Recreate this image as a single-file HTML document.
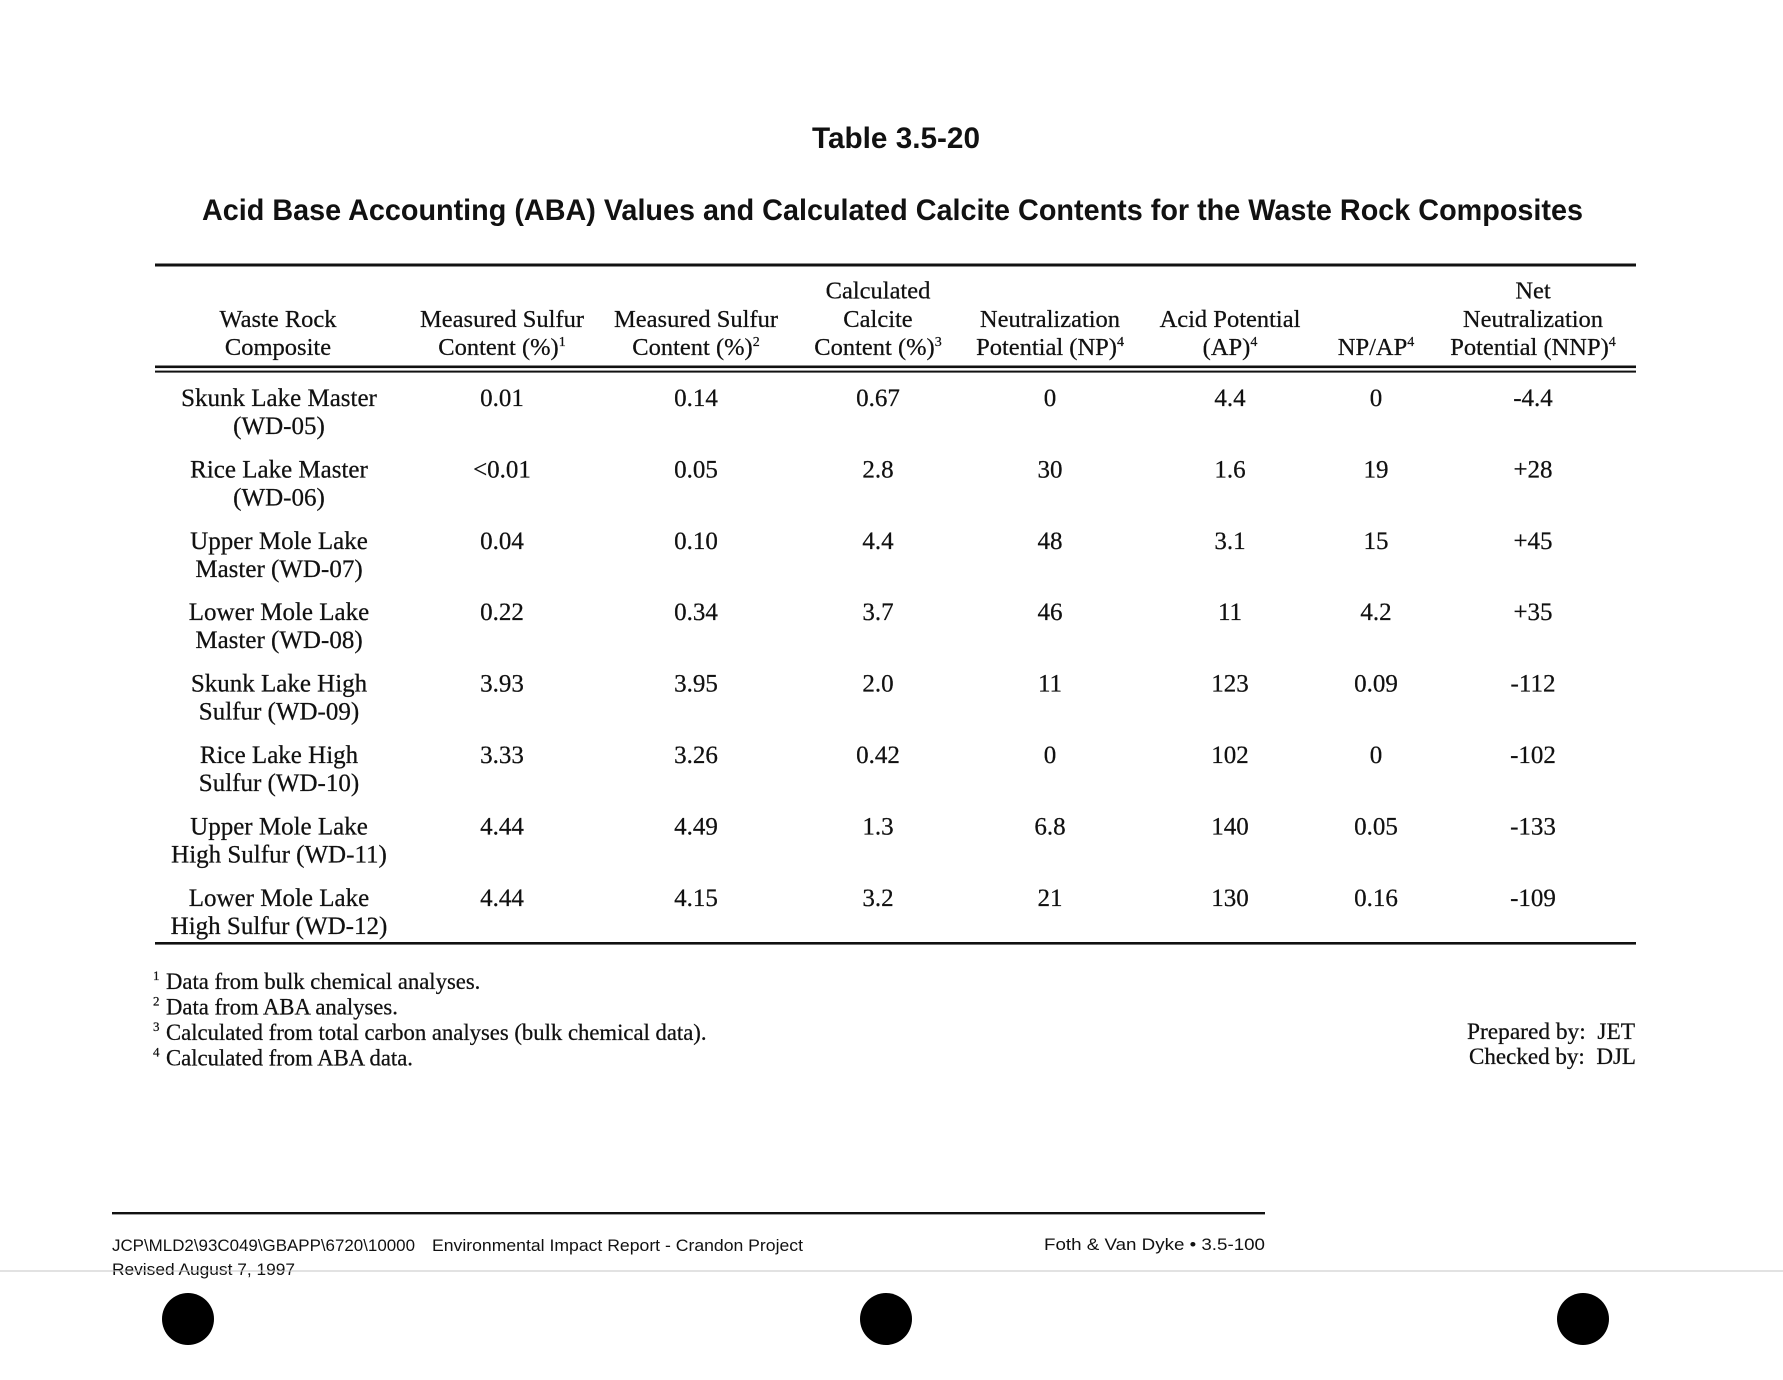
<!DOCTYPE html>
<html>
<head>
<meta charset="utf-8">
<style>
  html,body{margin:0;padding:0;background:#fff;}
  svg{display:block;}
  .t{font-family:"Liberation Serif",serif;fill:#111;stroke:#111;stroke-width:0.25px;}
  .h{font-size:24.5px;}
  .d{font-size:25px;}
  .f{font-size:22.7px;}
  .b{font-family:"Liberation Sans",sans-serif;font-weight:bold;fill:#111;font-size:30px;}
  .s{font-family:"Liberation Sans",sans-serif;fill:#111;font-size:17px;}
</style>
</head>
<body>
<svg width="1783" height="1380" viewBox="0 0 1783 1380" xmlns="http://www.w3.org/2000/svg">
  <rect width="1783" height="1380" fill="#fff"/>

  <!-- Titles -->
  <text class="b" x="812" y="148" textLength="168" lengthAdjust="spacingAndGlyphs">Table 3.5-20</text>
  <text class="b" x="202" y="220" textLength="1381" lengthAdjust="spacingAndGlyphs">Acid Base Accounting (ABA) Values and Calculated Calcite Contents for the Waste Rock Composites</text>

  <!-- Rules -->
  <rect x="155" y="263.5" width="1481" height="3" fill="#111"/>
  <rect x="155" y="365.5" width="1481" height="2.6" fill="#111"/>
  <rect x="155" y="370.6" width="1481" height="2" fill="#111"/>
  <rect x="155" y="942" width="1481" height="2.6" fill="#111"/>

  <!-- Header -->
  <g class="t h" text-anchor="middle">
    <text x="278" y="327">Waste Rock</text>
    <text x="278" y="355">Composite</text>

    <text x="502" y="327">Measured Sulfur</text>
    <text x="502" y="355">Content (%)<tspan dy="-9" font-size="14">1</tspan></text>

    <text x="696" y="327">Measured Sulfur</text>
    <text x="696" y="355">Content (%)<tspan dy="-9" font-size="14">2</tspan></text>

    <text x="878" y="298.5">Calculated</text>
    <text x="878" y="327">Calcite</text>
    <text x="878" y="355">Content (%)<tspan dy="-9" font-size="14">3</tspan></text>

    <text x="1050" y="327">Neutralization</text>
    <text x="1050" y="355">Potential (NP)<tspan dy="-9" font-size="14">4</tspan></text>

    <text x="1230" y="327">Acid Potential</text>
    <text x="1230" y="355">(AP)<tspan dy="-9" font-size="14">4</tspan></text>

    <text x="1376" y="355">NP/AP<tspan dy="-9" font-size="14">4</tspan></text>

    <text x="1533" y="298.5">Net</text>
    <text x="1533" y="327">Neutralization</text>
    <text x="1533" y="355">Potential (NNP)<tspan dy="-9" font-size="14">4</tspan></text>
  </g>

  <!-- Data rows -->
  <g class="t d" text-anchor="middle">
    <text x="279" y="406">Skunk Lake Master</text>
    <text x="279" y="434">(WD-05)</text>
    <text x="502" y="406">0.01</text>
    <text x="696" y="406">0.14</text>
    <text x="878" y="406">0.67</text>
    <text x="1050" y="406">0</text>
    <text x="1230" y="406">4.4</text>
    <text x="1376" y="406">0</text>
    <text x="1533" y="406">-4.4</text>

    <text x="279" y="477.5">Rice Lake Master</text>
    <text x="279" y="505.5">(WD-06)</text>
    <text x="502" y="477.5">&lt;0.01</text>
    <text x="696" y="477.5">0.05</text>
    <text x="878" y="477.5">2.8</text>
    <text x="1050" y="477.5">30</text>
    <text x="1230" y="477.5">1.6</text>
    <text x="1376" y="477.5">19</text>
    <text x="1533" y="477.5">+28</text>

    <text x="279" y="549">Upper Mole Lake</text>
    <text x="279" y="577">Master (WD-07)</text>
    <text x="502" y="549">0.04</text>
    <text x="696" y="549">0.10</text>
    <text x="878" y="549">4.4</text>
    <text x="1050" y="549">48</text>
    <text x="1230" y="549">3.1</text>
    <text x="1376" y="549">15</text>
    <text x="1533" y="549">+45</text>

    <text x="279" y="620">Lower Mole Lake</text>
    <text x="279" y="648">Master (WD-08)</text>
    <text x="502" y="620">0.22</text>
    <text x="696" y="620">0.34</text>
    <text x="878" y="620">3.7</text>
    <text x="1050" y="620">46</text>
    <text x="1230" y="620">11</text>
    <text x="1376" y="620">4.2</text>
    <text x="1533" y="620">+35</text>

    <text x="279" y="691.5">Skunk Lake High</text>
    <text x="279" y="719.5">Sulfur (WD-09)</text>
    <text x="502" y="691.5">3.93</text>
    <text x="696" y="691.5">3.95</text>
    <text x="878" y="691.5">2.0</text>
    <text x="1050" y="691.5">11</text>
    <text x="1230" y="691.5">123</text>
    <text x="1376" y="691.5">0.09</text>
    <text x="1533" y="691.5">-112</text>

    <text x="279" y="763">Rice Lake High</text>
    <text x="279" y="791">Sulfur (WD-10)</text>
    <text x="502" y="763">3.33</text>
    <text x="696" y="763">3.26</text>
    <text x="878" y="763">0.42</text>
    <text x="1050" y="763">0</text>
    <text x="1230" y="763">102</text>
    <text x="1376" y="763">0</text>
    <text x="1533" y="763">-102</text>

    <text x="279" y="834.5">Upper Mole Lake</text>
    <text x="279" y="862.5">High Sulfur (WD-11)</text>
    <text x="502" y="834.5">4.44</text>
    <text x="696" y="834.5">4.49</text>
    <text x="878" y="834.5">1.3</text>
    <text x="1050" y="834.5">6.8</text>
    <text x="1230" y="834.5">140</text>
    <text x="1376" y="834.5">0.05</text>
    <text x="1533" y="834.5">-133</text>

    <text x="279" y="906">Lower Mole Lake</text>
    <text x="279" y="934">High Sulfur (WD-12)</text>
    <text x="502" y="906">4.44</text>
    <text x="696" y="906">4.15</text>
    <text x="878" y="906">3.2</text>
    <text x="1050" y="906">21</text>
    <text x="1230" y="906">130</text>
    <text x="1376" y="906">0.16</text>
    <text x="1533" y="906">-109</text>
  </g>

  <!-- Footnotes -->
  <g class="t f">
    <text x="153" y="980" font-size="13">1</text>
    <text x="166" y="989">Data from bulk chemical analyses.</text>
    <text x="153" y="1005.5" font-size="13">2</text>
    <text x="166" y="1014.5">Data from ABA analyses.</text>
    <text x="153" y="1031" font-size="13">3</text>
    <text x="166" y="1040">Calculated from total carbon analyses (bulk chemical data).</text>
    <text x="153" y="1056.5" font-size="13">4</text>
    <text x="166" y="1065.5">Calculated from ABA data.</text>
  </g>
  <g class="t f">
    <text x="1467" y="1039" textLength="168" lengthAdjust="spacingAndGlyphs">Prepared by:&#160;&#160;JET</text>
    <text x="1469" y="1064" textLength="167" lengthAdjust="spacingAndGlyphs">Checked by:&#160;&#160;DJL</text>
  </g>

  <!-- Footer -->
  <rect x="112" y="1212" width="1153" height="2.4" fill="#111"/>
  <text class="s" x="112" y="1251" textLength="303" lengthAdjust="spacingAndGlyphs">JCP\MLD2\93C049\GBAPP\6720\10000</text>
  <text class="s" x="432" y="1251" textLength="371" lengthAdjust="spacingAndGlyphs">Environmental Impact Report - Crandon Project</text>
  <text class="s" x="112" y="1275" textLength="183" lengthAdjust="spacingAndGlyphs">Revised August 7, 1997</text>
  <text class="s" x="1044" y="1250" textLength="221" lengthAdjust="spacingAndGlyphs">Foth &amp; Van Dyke • 3.5-100</text>

  <!-- faint scan line -->
  <rect x="0" y="1270.5" width="1783" height="1" fill="#c4c4c4"/>

  <!-- hole punches -->
  <circle cx="188" cy="1319" r="26" fill="#000"/>
  <circle cx="886" cy="1319" r="26" fill="#000"/>
  <circle cx="1583" cy="1319" r="26" fill="#000"/>
</svg>
</body>
</html>
